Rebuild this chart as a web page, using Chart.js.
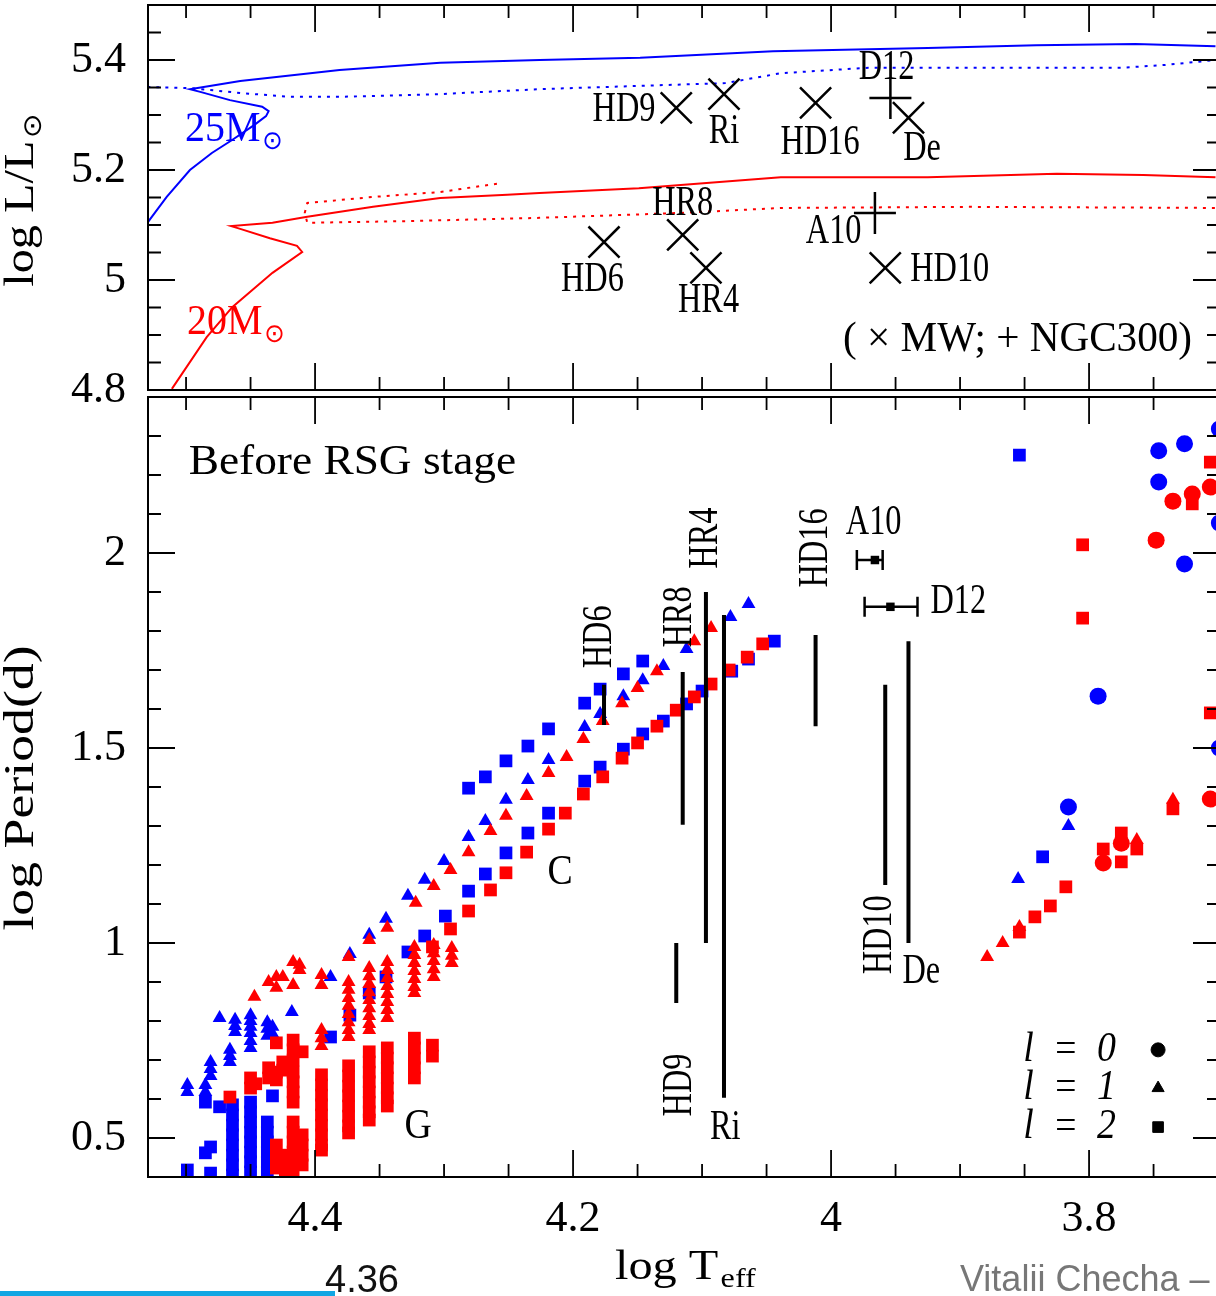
<!DOCTYPE html>
<html>
<head>
<meta charset="utf-8">
<script src="https://cdn.jsdelivr.net/npm/chart.js@4.4.1/dist/chart.umd.min.js"></script>
<style>
  html, body { margin: 0; padding: 0; background: #fff; width: 1216px; height: 1296px; overflow: hidden; }
  canvas { position: absolute; left: 0; }
  .ov { position: absolute; white-space: nowrap; font-family: "Liberation Sans", Arial, sans-serif; }
</style>
</head>
<body>
<canvas id="topChart" width="1216" height="420" style="top:0"></canvas>
<canvas id="bottomChart" width="1216" height="904" style="top:392px"></canvas>
<div class="ov" style="left:325px;top:1258px;font-size:38px;color:#111">4.36</div>
<div style="position:absolute;left:0;top:1291px;width:335px;height:5px;background:#12a6e3"></div>
<div class="ov" style="left:960px;top:1258px;font-size:36px;color:#777">Vitalii Checha –</div>
<script>
// ---- axes ----
const xTickLabels = [4.4, 4.2, 4.0, 3.8];
const lumTickLabels = [4.8, 5.0, 5.2, 5.4];
const periodTickLabels = [0.5, 1.0, 1.5, 2.0];

// ---- observed stars ----
// Milky Way: log Teff, log L and the range of observed periods (log d)
const mwNames    = ['HD9', 'Ri', 'HD16', 'De', 'HR8', 'HD6', 'HR4', 'HD10'];
const mwLogT     = [4.120, 4.083, 4.012, 3.940, 4.115, 4.176, 4.097, 3.958];
const mwLogL     = [5.313, 5.338, 5.322, 5.295, 5.082, 5.069, 5.022, 5.022];
const mwPeriodLo = [0.846, 0.603, 1.556, 1.000, 1.303, 1.559, 1.000, 1.149];
const mwPeriodHi = [1.000, 1.841, 1.790, 1.774, 1.695, 1.662, 1.900, 1.662];
// NGC300: log Teff with error range, log L, log P
const ngcNames  = ['D12', 'A10'];
const ngcLogT   = [3.954, 3.966];
const ngcLogTLo = [3.933, 3.960];
const ngcLogTHi = [3.974, 3.980];
const ngcLogL   = [5.331, 5.122];
const ngcLogP   = [1.862, 1.982];

// ---- evolutionary tracks [log Teff, log L] ----
const track25 = [[4.530,5.104],[4.515,5.151],[4.497,5.200],[4.480,5.231],[4.464,5.255],[4.447,5.282],[4.438,5.298],[4.436,5.307],[4.441,5.315],[4.466,5.327],[4.489,5.342],[4.497,5.347],[4.458,5.362],[4.381,5.382],[4.303,5.395],[4.226,5.400],[4.148,5.404],[4.045,5.416],[3.925,5.422],[3.841,5.427],[3.764,5.429],[3.702,5.425]];
const track25Back = [[4.530,5.351],[4.497,5.349],[4.458,5.340],[4.419,5.333],[4.381,5.333],[4.303,5.338],[4.226,5.347],[4.148,5.353],[4.082,5.358],[4.039,5.376],[3.971,5.386],[3.892,5.386],[3.774,5.386],[3.741,5.391],[3.702,5.400]];
const track20 = [[4.511,4.802],[4.484,4.896],[4.464,4.951],[4.433,5.013],[4.410,5.051],[4.414,5.062],[4.435,5.076],[4.458,5.093],[4.465,5.098],[4.433,5.104],[4.406,5.115],[4.355,5.133],[4.303,5.149],[4.251,5.155],[4.226,5.158],[4.149,5.167],[4.039,5.187],[3.925,5.187],[3.825,5.193],[3.758,5.191],[3.702,5.187]];
const track20Back = [[4.259,5.175],[4.303,5.160],[4.355,5.151],[4.406,5.140],[4.408,5.122],[4.406,5.104],[4.329,5.107],[4.226,5.113],[4.116,5.122],[4.039,5.131],[3.892,5.133],[3.702,5.131]];

// ---- model periods [log Teff, log P], by mass and degree l ----
const m25l0 = [[3.699,2.318],[3.726,2.280],[3.746,2.262],[3.746,2.182],[3.726,1.972],[3.699,2.077],[3.793,1.633],[3.699,1.500],[3.816,1.349]];
const m25l1 = [[4.388,0.913],[4.373,0.972],[4.358,1.021],[4.345,1.062],[4.328,1.121],[4.315,1.162],[4.300,1.210],[4.281,1.272],[4.268,1.313],[4.252,1.367],[4.235,1.418],[4.219,1.469],[4.191,1.554],[4.179,1.587],[4.161,1.633],[4.146,1.674],[4.130,1.710],[4.112,1.754],[4.078,1.836],[4.064,1.869],
  [4.499,0.636],[4.499,0.618],[4.485,0.636],[4.485,0.618],[4.481,0.695],[4.481,0.677],[4.481,0.659],[4.474,0.808],[4.466,0.726],[4.466,0.710],[4.466,0.695],[4.462,0.803],[4.462,0.787],[4.462,0.772],
  [4.450,0.815],[4.450,0.800],[4.450,0.785],[4.450,0.769],[4.450,0.749],[4.450,0.731],[4.437,0.797],[4.437,0.780],[4.437,0.762],[4.433,0.785],[4.433,0.767],[4.418,0.823],
  [3.855,1.164],[3.816,1.300]];
const m25l2 = [[4.281,1.397],[4.268,1.426],[4.252,1.467],[4.235,1.505],[4.219,1.549],[4.191,1.615],[4.179,1.651],[4.161,1.690],[4.146,1.723],
  [4.388,0.759],[4.373,0.815],[4.358,0.872],[4.345,0.913],[4.328,0.977],[4.315,1.018],[4.299,1.069],[4.281,1.133],[4.268,1.177],[4.252,1.231],[4.235,1.282],[4.219,1.333],[4.191,1.415],[4.179,1.451],[4.161,1.497],[4.146,1.536],[4.130,1.569],[4.112,1.613],[4.100,1.646],[4.077,1.697],[4.064,1.728],[4.044,1.774],
  [4.499,0.418],[4.485,0.592],[4.485,0.462],[4.481,0.477],[4.481,0.410],[4.474,0.580],
  [4.464,0.585],[4.464,0.559],[4.464,0.533],[4.464,0.508],[4.464,0.482],[4.464,0.456],[4.464,0.431],[4.464,0.405],
  [4.450,0.592],[4.450,0.567],[4.450,0.541],[4.450,0.515],[4.450,0.490],[4.450,0.464],[4.450,0.439],[4.450,0.413],
  [4.437,0.541],[4.437,0.515],[4.437,0.490],[4.437,0.464],[4.437,0.439],[4.437,0.413],[4.433,0.608],
  [3.854,2.251],[3.836,1.221]];
const m20l0 = [[3.735,2.133],[3.720,2.151],[3.706,2.169],[3.748,2.033],[3.706,1.369],[3.789,1.205],[3.775,1.256]];
const m20l1 = [[4.344,1.039],[4.322,1.103],[4.308,1.146],[4.295,1.187],[4.281,1.233],[4.264,1.287],[4.252,1.326],[4.236,1.377],[4.219,1.436],[4.205,1.477],[4.192,1.523],[4.177,1.569],[4.162,1.615],[4.150,1.654],[4.135,1.697],[4.106,1.774],[4.093,1.808],
  [4.447,0.862],[4.436,0.900],[4.430,0.913],[4.430,0.885],[4.425,0.913],[4.417,0.951],[4.417,0.892],[4.412,0.944],[4.412,0.931],[4.395,0.918],[4.395,0.892],[4.374,0.964],[4.358,1.008],
  [4.395,0.777],[4.395,0.756],[4.395,0.736],
  [4.374,0.900],[4.374,0.880],[4.374,0.859],[4.374,0.839],[4.374,0.818],[4.374,0.797],[4.374,0.777],[4.374,0.759],
  [4.358,0.936],[4.358,0.915],[4.358,0.895],[4.358,0.874],[4.358,0.854],[4.358,0.833],[4.358,0.813],[4.358,0.792],[4.358,0.777],
  [4.344,0.951],[4.344,0.931],[4.344,0.910],[4.344,0.890],[4.344,0.869],[4.344,0.849],[4.344,0.828],[4.344,0.808],
  [4.323,0.990],[4.323,0.969],[4.323,0.949],[4.323,0.928],[4.323,0.908],[4.323,0.887],[4.323,0.872],
  [4.308,0.995],[4.308,0.974],[4.308,0.954],[4.308,0.933],[4.308,0.913],
  [4.294,0.987],[4.294,0.967],[4.294,0.949],
  [3.879,0.964],[3.867,1.000],[3.854,1.041],[3.763,1.264],[3.735,1.367]];
const m20l2 = [[4.309,0.990],[4.295,1.036],[4.281,1.082],[4.264,1.136],[4.252,1.180],[4.236,1.233],[4.219,1.292],[4.206,1.333],[4.192,1.382],[4.177,1.426],[4.162,1.474],[4.150,1.513],[4.135,1.556],[4.120,1.597],[4.106,1.631],[4.093,1.664],[4.079,1.700],[4.065,1.733],[4.053,1.767],
  [4.466,0.605],[4.450,0.654],[4.450,0.628],[4.446,0.639],[4.436,0.680],[4.436,0.654],
  [4.430,0.744],[4.430,0.669],[4.430,0.649],[4.430,0.482],[4.430,0.451],[4.430,0.423],[4.425,0.695],[4.425,0.674],[4.423,0.456],[4.423,0.431],[4.423,0.410],
  [4.417,0.751],[4.417,0.726],[4.417,0.700],[4.417,0.669],[4.417,0.644],[4.417,0.618],[4.417,0.592],[4.417,0.541],[4.417,0.515],[4.417,0.490],[4.417,0.464],[4.417,0.439],[4.417,0.413],
  [4.410,0.721],[4.410,0.508],[4.410,0.482],[4.410,0.456],[4.410,0.431],
  [4.395,0.662],[4.395,0.636],[4.395,0.610],[4.395,0.585],[4.395,0.559],[4.395,0.533],[4.395,0.508],[4.395,0.482],[4.395,0.469],
  [4.374,0.685],[4.374,0.659],[4.374,0.633],[4.374,0.608],[4.374,0.582],[4.374,0.556],[4.374,0.531],[4.374,0.513],
  [4.358,0.721],[4.358,0.695],[4.358,0.669],[4.358,0.644],[4.358,0.618],[4.358,0.592],[4.358,0.567],[4.358,0.546],
  [4.344,0.731],[4.344,0.705],[4.344,0.680],[4.344,0.654],[4.344,0.628],[4.344,0.603],[4.344,0.582],
  [4.323,0.756],[4.323,0.731],[4.323,0.705],[4.323,0.680],[4.323,0.654],[4.309,0.738],[4.309,0.710],
  [3.805,2.021],[3.805,1.833],[3.706,2.233],[3.720,2.126],[3.706,1.590],[3.854,1.028],[3.842,1.067],[3.830,1.095],[3.818,1.144],[3.789,1.241],[3.775,1.282],[3.775,1.208],[3.763,1.241],[3.735,1.344]];

// ---- text annotations (data coordinates) ----
const topLabels = [
  ['HD9', 4.1605, 5.309], ['Ri', 4.083, 5.269], ['HD16', 4.0085, 5.249], ['De', 3.9295, 5.238],
  ['D12', 3.957, 5.386], ['HR8', 4.115, 5.138], ['HD6', 4.185, 5.000], ['HR4', 4.095, 4.962],
  ['A10', 3.998, 5.087], ['HD10', 3.908, 5.018]
];
const bottomLabels = [
  {t: 'HD6', x: 4.179, y: 1.785, rot: true}, {t: 'HR8', x: 4.117, y: 1.836, rot: true},
  {t: 'HR4', x: 4.097, y: 2.038, rot: true}, {t: 'HD16', x: 4.012, y: 2.013, rot: true},
  {t: 'A10', x: 3.967, y: 2.077}, {t: 'D12', x: 3.923, y: 1.874, align: 'left'},
  {t: 'HD10', x: 3.962, y: 1.021, rot: true}, {t: 'De', x: 3.930, y: 0.926},
  {t: 'HD9', x: 4.117, y: 0.636, rot: true}, {t: 'Ri', x: 4.082, y: 0.526},
  {t: 'C', x: 4.210, y: 1.180, sx: 0.9}, {t: 'G', x: 4.320, y: 0.528, sx: 0.9},
  {t: 'Before RSG stage', x: 4.498, y: 2.231, align: 'left', sx: 1.08}
];
const legendDegrees = ['0', '1', '2'];
const legendStyles = ['circle', 'triangle', 'rect'];

const BLUE = '#0000ff', RED = '#ff0000';
const SERIF = '"Liberation Serif", serif';
const pts = arr => arr.map(([x, y]) => ({x, y}));

function txt(ctx, s, x, y, o = {}) {
  const size = o.size ?? 42;
  const main = (o.italic ? 'italic ' : '') + size + 'px ' + SERIF;
  const subF = (o.subSize ?? 26) + 'px ' + (o.subFont ?? '"DejaVu Sans", sans-serif');
  ctx.save();
  ctx.translate(x, y);
  if (o.rot) ctx.rotate(-Math.PI / 2);
  ctx.scale(o.sx ?? 0.77, 1);
  ctx.fillStyle = o.color ?? '#000';
  ctx.textBaseline = 'middle';
  ctx.textAlign = 'left';
  ctx.font = main;
  const w = ctx.measureText(s).width;
  let sw = 0;
  if (o.sub) { ctx.font = subF; sw = ctx.measureText(o.sub).width + 2; }
  const align = o.align ?? 'center';
  const x0 = align === 'center' ? -(w + sw) / 2 : align === 'right' ? -(w + sw) : 0;
  ctx.font = main;
  ctx.fillText(s, x0, 0);
  if (o.sub) { ctx.font = subF; ctx.fillText(o.sub, x0 + w + 2, o.subDy ?? 10); }
  ctx.restore();
}

// frame with inward ticks on all four sides
function frameTicks(yStep, yMajorEvery, yFrom, yTo) {
  return {
    id: 'frameTicks',
    afterDatasetsDraw(chart) {
      const {ctx, chartArea: a, scales: {x, y}} = chart;
      ctx.save();
      ctx.strokeStyle = '#000';
      ctx.lineWidth = 2;
      ctx.strokeRect(a.left, a.top, a.right - a.left + 4, a.bottom - a.top);
      ctx.lineWidth = 1.8;
      ctx.beginPath();
      for (let k = 74; k <= 91; k++) {
        const p = x.getPixelForValue(k * 0.05);
        if (p < a.left || p > a.right) continue;
        const len = k % 4 === 0 ? 27 : 13;
        ctx.moveTo(p, a.top); ctx.lineTo(p, a.top + len);
        ctx.moveTo(p, a.bottom); ctx.lineTo(p, a.bottom - len);
      }
      for (let k = yFrom; k <= yTo; k++) {
        const p = y.getPixelForValue(k * yStep);
        if (p < a.top - 1 || p > a.bottom + 1) continue;
        const len = k % yMajorEvery === 0 ? 27 : 13;
        ctx.moveTo(a.left, p); ctx.lineTo(a.left + len, p);
        ctx.moveTo(a.right + 4, p); ctx.lineTo(a.right + 4 - len, p);
      }
      ctx.stroke();
      ctx.restore();
    }
  };
}

function axes(yMin, yMax, yTicks, showX, xHeight) {
  return {
    x: {
      type: 'linear', reverse: true, min: 3.7016, max: 4.5295,
      grid: {display: false}, border: {display: false},
      afterBuildTicks: s => { s.ticks = xTickLabels.map(v => ({value: v})); },
      ticks: {display: showX, padding: 8, color: '#000', font: {family: SERIF, size: 44}, callback: v => String(v)},
      afterFit: s => { s.height = xHeight; s.paddingLeft = 0; s.paddingRight = 0; }
    },
    y: {
      type: 'linear', min: yMin, max: yMax,
      grid: {display: false, drawTicks: false}, border: {display: false},
      afterBuildTicks: s => { s.ticks = yTicks.map(v => ({value: v})); },
      ticks: {padding: 22, color: '#000', font: {family: SERIF, size: 44}, callback: v => String(v)},
      afterFit: s => { s.width = 148; s.paddingTop = 0; s.paddingBottom = 0; }
    }
  };
}

const common = {
  responsive: false,
  animation: false,
  events: [],
  plugins: {legend: {display: false}, tooltip: {enabled: false}}
};

// ---------- top panel: HR diagram ----------
const topText = {
  id: 'topText',
  afterDraw(chart) {
    const {ctx, scales: {x, y}} = chart;
    topLabels.forEach(([t, lt, ll]) => txt(ctx, t, x.getPixelForValue(lt), y.getPixelForValue(ll)));
    txt(ctx, '25M', x.getPixelForValue(4.5008), y.getPixelForValue(5.2727), {align: 'left', color: BLUE, sx: 0.95, sub: '⊙', subDy: 12});
    txt(ctx, '20M', x.getPixelForValue(4.4992), y.getPixelForValue(4.9218), {align: 'left', color: RED, sx: 0.95, sub: '⊙', subDy: 12});
    txt(ctx, '( × MW; + NGC300)', x.getPixelForValue(3.9907), y.getPixelForValue(4.8909), {align: 'left', sx: 0.98});
    txt(ctx, 'log L/L', 22, 200, {rot: true, sx: 1.15, size: 42, sub: '⊙', subDy: 12});
  }
};

new Chart(document.getElementById('topChart'), {
  type: 'scatter',
  data: {
    datasets: [
      {data: pts(ngcLogT.map((t, i) => [t, ngcLogL[i]])), pointStyle: 'cross', pointRadius: 21, borderColor: '#000', borderWidth: 2.5, order: 0},
      {data: pts(mwLogT.map((t, i) => [t, mwLogL[i]])), pointStyle: 'crossRot', pointRadius: 22, borderColor: '#000', borderWidth: 2.5, order: 1},
      {data: pts(track25), showLine: true, pointRadius: 0, borderColor: BLUE, borderWidth: 2, tension: 0, order: 2},
      {data: pts(track25Back), showLine: true, pointRadius: 0, borderColor: BLUE, borderWidth: 2, borderDash: [3, 6], tension: 0, order: 3},
      {data: pts(track20), showLine: true, pointRadius: 0, borderColor: RED, borderWidth: 2, tension: 0, order: 2},
      {data: pts(track20Back), showLine: true, pointRadius: 0, borderColor: RED, borderWidth: 2, borderDash: [3, 6], tension: 0, order: 3}
    ]
  },
  options: {
    ...common,
    layout: {autoPadding: false, padding: {top: 5, left: 0, right: 0, bottom: 0}},
    scales: axes(4.8, 5.5, lumTickLabels, false, 30)
  },
  plugins: [frameTicks(0.05, 4, 96, 110), topText]
});

// ---------- bottom panel: periods ----------
const barData = [];
mwLogT.forEach((t, i) => {
  barData.push({x: t, y: mwPeriodLo[i]}, {x: t, y: mwPeriodHi[i]}, {x: t, y: null});
});

const bottomText = {
  id: 'bottomText',
  afterDraw(chart) {
    const {ctx, scales: {x, y}} = chart;
    bottomLabels.forEach(l => txt(ctx, l.t, x.getPixelForValue(l.x), y.getPixelForValue(l.y), l));
    // horizontal error bars of the NGC300 stars
    ctx.save();
    ctx.strokeStyle = '#000';
    ctx.lineWidth = 2.5;
    ngcNames.forEach((n, i) => {
      const py = y.getPixelForValue(ngcLogP[i]);
      const a = x.getPixelForValue(ngcLogTLo[i]), b = x.getPixelForValue(ngcLogTHi[i]);
      ctx.beginPath();
      ctx.moveTo(a, py); ctx.lineTo(b, py);
      ctx.moveTo(a, py - 10); ctx.lineTo(a, py + 10);
      ctx.moveTo(b, py - 10); ctx.lineTo(b, py + 10);
      ctx.stroke();
    });
    ctx.restore();
    // legend of the degree l
    const lp = [0.726, 0.628, 0.528];
    legendDegrees.forEach((d, i) => {
      const py = y.getPixelForValue(lp[i]);
      txt(ctx, 'l  =  ' + d, x.getPixelForValue(3.851), py, {align: 'left', italic: true, sx: 0.9});
      ctx.save();
      ctx.fillStyle = '#000'; ctx.strokeStyle = '#000';
      Chart.helpers.drawPoint(ctx, {pointStyle: legendStyles[i], radius: i === 2 ? 7.5 : 7, rotation: 0, borderWidth: 1}, x.getPixelForValue(3.7465), py);
      ctx.restore();
    });
    // axis titles
    txt(ctx, 'log Period(d)', 22, 396, {rot: true, sx: 1.28, size: 42});
    txt(ctx, 'log T', 615, 876, {align: 'left', sx: 1.15, size: 42, sub: 'eff', subFont: SERIF, subSize: 28, subDy: 12});
  }
};

const scatterSet = (arr, style, color, r, order) => ({
  data: pts(arr), pointStyle: style, pointRadius: r, backgroundColor: color, borderColor: color, borderWidth: 0, order
});

new Chart(document.getElementById('bottomChart'), {
  type: 'scatter',
  data: {
    datasets: [
      {data: barData, showLine: true, spanGaps: false, pointRadius: 0, borderColor: '#000', borderWidth: 4, order: 0},
      {data: pts(ngcLogT.map((t, i) => [t, ngcLogP[i]])), pointStyle: 'rect', pointRadius: 6, backgroundColor: '#000', borderWidth: 0, order: 0},
      scatterSet(m20l0, 'circle', RED, 8.5, 1),
      scatterSet(m20l1, 'triangle', RED, 8, 1),
      scatterSet(m20l2, 'rect', RED, 9, 1),
      scatterSet(m25l0, 'circle', BLUE, 8.5, 2),
      scatterSet(m25l1, 'triangle', BLUE, 8, 2),
      scatterSet(m25l2, 'rect', BLUE, 9, 2)
    ]
  },
  options: {
    ...common,
    layout: {autoPadding: false, padding: {top: 5, left: 0, right: 0, bottom: 0}},
    scales: axes(0.4, 2.4, periodTickLabels, true, 119)
  },
  plugins: [frameTicks(0.1, 5, 4, 24), bottomText]
});
</script>
</body>
</html>
